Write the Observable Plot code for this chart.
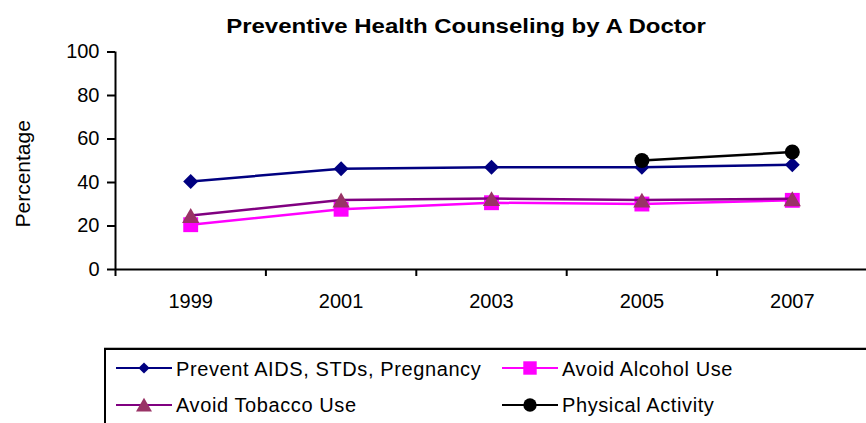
<!DOCTYPE html>
<html><head><meta charset="utf-8">
<script src="https://cdn.jsdelivr.net/npm/d3@7"></script>
<script src="https://cdn.jsdelivr.net/npm/@observablehq/plot@0.6"></script>
<style>
body{margin:0;background:#fff;font-family:"Liberation Sans",Arial,sans-serif;}
#wrap{position:relative;width:866px;height:423px;overflow:hidden;background:#fff;}
#title{box-sizing:border-box;height:38px;padding-top:15px;padding-left:66px;width:866px;}
#title span{display:block;width:800px;text-align:center;font-weight:bold;font-size:20px;line-height:23px;transform:scaleX(1.2);transform-origin:center;}
#legend{position:absolute;left:104px;top:348px;width:800px;height:100px;border:2px solid #000;box-sizing:border-box;box-shadow:0 -1px 0 #bbb;}
.item{position:absolute;font-size:20px;line-height:23px;letter-spacing:0.6px;white-space:nowrap;}
.sw{position:absolute;}
</style></head>
<body>
<div id="wrap">
  <div id="title"><span>Preventive Health Counseling by A Doctor</span></div>
  <div id="chart"></div>
  <div id="legend"></div>
</div>
<script>
const years = [1999, 2001, 2003, 2005, 2007];
const aids = [40.5, 46.3, 47, 47, 48.2];
const alcohol = [20.6, 27.7, 30.7, 30.1, 31.8];
const tobacco = [24.8, 32, 32.6, 31.9, 32.5];
const physicalYears = [2005, 2007];
const physical = [50.1, 54];
const yTicks = [0, 20, 40, 60, 80, 100];
const seriesNames = ["Prevent AIDS, STDs, Pregnancy", "Avoid Alcohol Use", "Avoid Tobacco Use", "Physical Activity"];
const yLabel = "Percentage";

const toRows = (xs, vs, name) => xs.map((x, i) => ({year: x, value: vs[i], series: name}));
const sAids = toRows(years, aids, seriesNames[0]);
const sAlc = toRows(years, alcohol, seriesNames[1]);
const sTob = toRows(years, tobacco, seriesNames[2]);
const sPhys = toRows(physicalYears, physical, seriesNames[3]);

const boundaries = [years[0] - 1, ...years.map(y => y + 1)].slice(0, years.length);

const chart = Plot.plot({
  width: 866,
  height: 300,
  marginLeft: 115,
  marginRight: -1,
  marginTop: 13.5,
  marginBottom: 69,
  style: {fontFamily: '"Liberation Sans", Arial, sans-serif', fontSize: "20px", color: "#000", background: "#fff"},
  x: {domain: [years[0] - 1, years[years.length - 1] + 1]},
  y: {domain: [0, 100]},
  marks: [
    Plot.axisY({ticks: yTicks, tickSize: 8, tickPadding: 8, strokeWidth: 2, fontSize: 20, label: null}),
    Plot.axisX({ticks: boundaries, tickSize: 7, strokeWidth: 2, tickFormat: () => "", label: null}),
    Plot.axisX({ticks: years, tickSize: 0, tickPadding: 24, fontSize: 20, tickFormat: d => String(d), label: null}),
    Plot.ruleY([0], {strokeWidth: 2, stroke: "#000"}),
    Plot.ruleX([years[0] - 1], {y1: 0, y2: 100, strokeWidth: 2, stroke: "#000"}),
    Plot.text([yLabel], {text: d => d, frameAnchor: "left", textAnchor: "middle", y: () => 44, dx: -92, rotate: -90, fontSize: 21}),
    Plot.line(sAids, {x: "year", y: "value", stroke: "#000080", strokeWidth: 2.5}),
    Plot.dot(sAids, {x: "year", y: "value", symbol: "diamond2", r: 6.75, fill: "#000080", stroke: "none"}),
    Plot.line(sAlc, {x: "year", y: "value", stroke: "#FF00FF", strokeWidth: 2.5}),
    Plot.dot(sAlc, {x: "year", y: "value", symbol: "square", r: 8.4, fill: "#FF00FF", stroke: "none"}),
    Plot.line(sTob, {x: "year", y: "value", stroke: "#800080", strokeWidth: 2.5}),
    Plot.dot(sTob, {x: "year", y: "value", symbol: "triangle", r: 6.4, dy: 2.5, fill: "#993366", stroke: "none"}),
    Plot.line(sPhys, {x: "year", y: "value", stroke: "#000", strokeWidth: 2.5}),
    Plot.dot(sPhys, {x: "year", y: "value", symbol: "circle", r: 7.5, fill: "#000", stroke: "none"})
  ]
});
document.getElementById("chart").appendChild(chart);

// legend
const legend = d3.select("#legend");
const legendItems = [
  {name: seriesNames[0], color: "#000080", fill: "#000080", sym: d3.symbolDiamond2, size: 80, col: 0, row: 0},
  {name: seriesNames[1], color: "#FF00FF", fill: "#FF00FF", sym: d3.symbolSquare, size: 180, col: 1, row: 0},
  {name: seriesNames[2], color: "#800080", fill: "#993366", sym: d3.symbolTriangle, size: 110, col: 0, row: 1},
  {name: seriesNames[3], color: "#000", fill: "#000", sym: d3.symbolCircle, size: 140, col: 1, row: 1}
];
const colX = [10, 396];
const rowY = [18, 55];
const textTop = [7.5, 44];
legendItems.forEach(it => {
  const sw = legend.append("svg").attr("class", "sw")
    .attr("width", 58).attr("height", 24)
    .style("left", colX[it.col] + "px").style("top", (rowY[it.row] - 12) + "px");
  sw.append("line").attr("x1", 0).attr("x2", 56).attr("y1", 12).attr("y2", 12)
    .attr("stroke", it.color).attr("stroke-width", 2);
  sw.append("path").attr("d", d3.symbol(it.sym, it.size)())
    .attr("transform", `translate(28,${it.sym === d3.symbolTriangle ? 14 : 12})`)
    .attr("fill", it.fill);
  legend.append("div").attr("class", "item")
    .style("left", (colX[it.col] + 60) + "px").style("top", textTop[it.row] + "px")
    .text(it.name);
});
</script>
</body></html>
